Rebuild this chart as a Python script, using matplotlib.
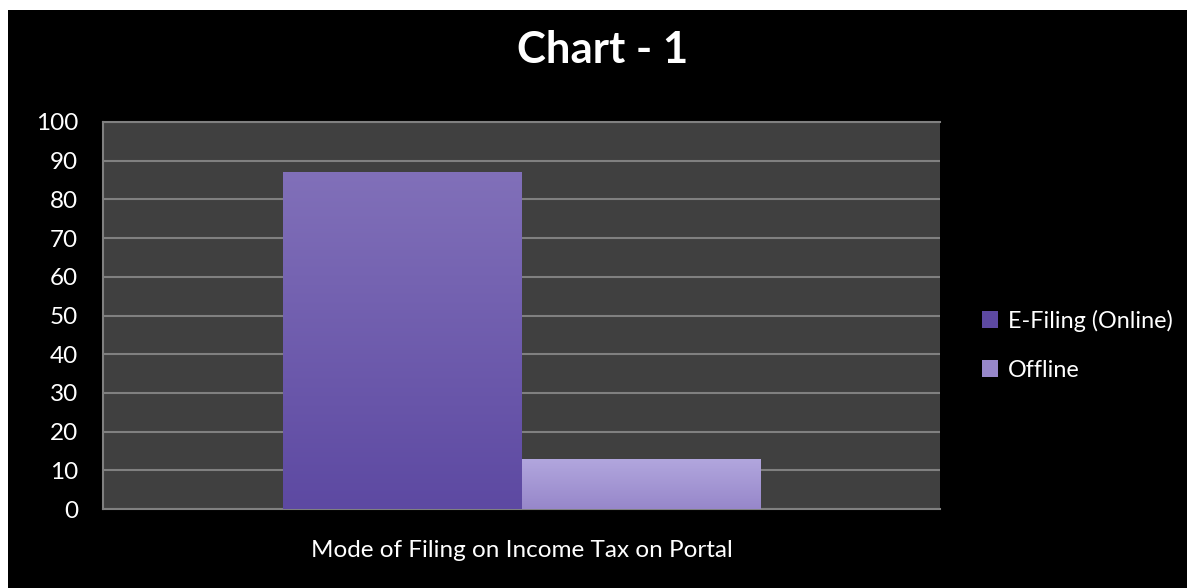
import numpy as np
import matplotlib.pyplot as plt
from matplotlib.colors import LinearSegmentedColormap
from matplotlib.patches import Rectangle

plt.rcParams['font.family'] = ['Lato', 'DejaVu Sans']

category = 'Mode of Filing on Income Tax on Portal'
series = ['E-Filing (Online)', 'Offline']
values = [87, 13]
yticks = [0, 10, 20, 30, 40, 50, 60, 70, 80, 90, 100]

# top / bottom colours of the gradients
grad = [('#8170b9', '#5d49a2'), ('#b2a7de', '#9787ca')]

fig = plt.figure(figsize=(11.87, 5.88), dpi=100, facecolor='white')
fig.patches.append(Rectangle((8 / 1187, 0), 1, 1 - 10 / 588, transform=fig.transFigure,
                             facecolor='black', edgecolor='none', zorder=-10))

ax = fig.add_axes([103 / 1187, 1 - 509 / 588, (940 - 103) / 1187, (509 - 122) / 588])
ax.set_zorder(1)
ax.set_facecolor('#404040')

w = 239 / 837
offsets = [-w / 2, w / 2]
bars = []
for name, v, off, (c_top, c_bot) in zip(series, values, offsets, grad):
    b = ax.bar(off, v, width=w, color=c_bot, label=name, zorder=3)[0]
    cmap = LinearSegmentedColormap.from_list(name, [c_bot, c_top])
    g = np.linspace(0, 1, 256).reshape(-1, 1)
    im = ax.imshow(g, cmap=cmap, origin='lower', aspect='auto',
                   extent=(off - w / 2, off + w / 2, 0, v), zorder=4)
    im.set_clip_path(b)
    bars.append(b)

ax.set_xlim(-0.5, 0.5)
ax.set_ylim(0, 100)
ax.set_yticks(yticks)
ax.set_xticks([])
ax.yaxis.grid(True, color='#808080', linewidth=1.5, zorder=1)
ax.set_axisbelow(True)
ax.tick_params(axis='y', length=0, pad=18, labelsize=17.5, labelcolor='white')
for side in ['left', 'top', 'bottom']:
    ax.spines[side].set_color('#808080')
    ax.spines[side].set_linewidth(1.5)
ax.spines['right'].set_visible(False)

ax.set_xlabel(category, color='white', fontsize=17.5, labelpad=22)

fig.text(603 / 1187, 1 - 50 / 588, 'Chart - 1', color='white', fontsize=31.5,
         fontweight='bold', ha='center', va='center')

leg = fig.legend(handles=bars, labels=series, loc='center left',
                 bbox_to_anchor=(961 / 1187, 1 - 345 / 588), frameon=False,
                 fontsize=16.8, labelcolor='white', handlelength=0.7, handleheight=0.7,
                 handletextpad=0.4, labelspacing=1.2)

fig.savefig('out.png', dpi=100, facecolor=fig.get_facecolor())
